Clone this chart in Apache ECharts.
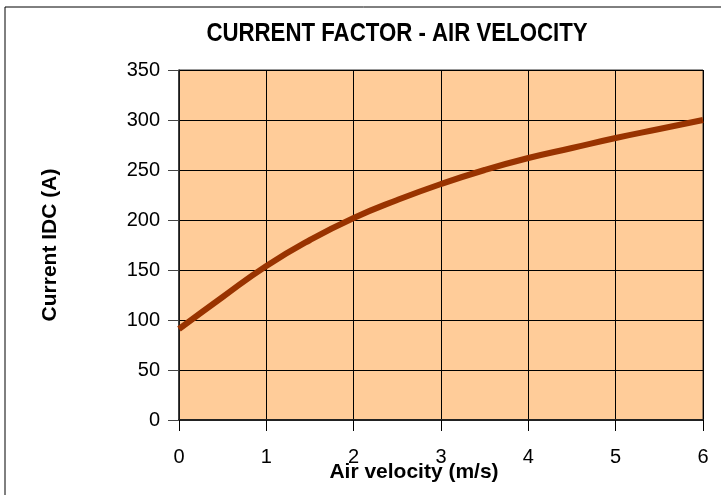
<!DOCTYPE html>
<html><head><meta charset="utf-8">
<script src="https://cdn.jsdelivr.net/npm/echarts@6/dist/echarts.min.js"></script>
<style>html,body{margin:0;padding:0;background:#fff}#c{width:721px;height:495px}</style>
</head><body><div id="c"></div>
<script>
const velocity = [0, 0.5, 1, 1.5, 2, 2.5, 3, 3.5, 4, 4.5, 5, 5.5, 6];
const current = [91, 123, 154, 180, 202, 220, 236, 250, 262, 272, 282, 291, 300];
const titleText = 'CURRENT FACTOR - AIR VELOCITY';
const xName = 'Air velocity (m/s)';
const yName = 'Current IDC (A)';

const chart = echarts.init(document.getElementById('c'));
chart.setOption({
  animation: false,
  backgroundColor: '#fff',
  graphic: [
    {type: 'rect', shape: {x: 5, y: 7, width: 730, height: 500}, style: {fill: 'none', stroke: '#000', lineWidth: 1}, silent: true},
    {type: 'text', x: 397, y: 34, scaleX: 0.855, silent: true,
     style: {text: titleText, font: 'bold 26px "Liberation Sans", Arial', fill: '#000', textAlign: 'center', textVerticalAlign: 'middle'}}
  ],
  grid: {left: 179, right: 18, top: 70, bottom: 75, show: true, backgroundColor: '#FFCC99', borderColor: '#333', borderWidth: 1,
         containLabel: false, outerBoundsMode: 'none'},
  xAxis: {
    type: 'value', min: 0, max: 6, interval: 1,
    name: xName, nameLocation: 'middle', nameGap: 42, nameMoveOverlap: false,
    nameTextStyle: {fontFamily: 'Liberation Sans, Arial', fontWeight: 'bold', fontSize: 21, color: '#000', padding: [0, 54, 0, 0]},
    axisLine: {show: true, lineStyle: {color: '#222', width: 2}},
    axisTick: {show: true, length: 11, lineStyle: {color: '#000'}},
    axisLabel: {fontFamily: 'Liberation Sans, Arial', fontSize: 20, color: '#000', margin: 27},
    splitLine: {show: true, lineStyle: {color: '#000', width: 1}}
  },
  yAxis: {
    type: 'value', min: 0, max: 350, interval: 50,
    name: yName, nameLocation: 'middle', nameGap: 118, nameRotate: 90, nameMoveOverlap: false,
    nameTextStyle: {fontFamily: 'Liberation Sans, Arial', fontWeight: 'bold', fontSize: 21, color: '#000'},
    axisLine: {show: true, lineStyle: {color: '#222', width: 1.5}},
    axisTick: {show: true, length: 11, lineStyle: {color: '#444'}},
    axisLabel: {fontFamily: 'Liberation Sans, Arial', fontSize: 20, color: '#000', margin: 19},
    splitLine: {show: true, lineStyle: {color: '#000', width: 1}}
  },
  series: [{
    type: 'line', data: velocity.map((v, i) => [v, current[i]]),
    smooth: true, showSymbol: false, lineStyle: {color: '#993300', width: 6}
  }]
});
</script></body></html>
